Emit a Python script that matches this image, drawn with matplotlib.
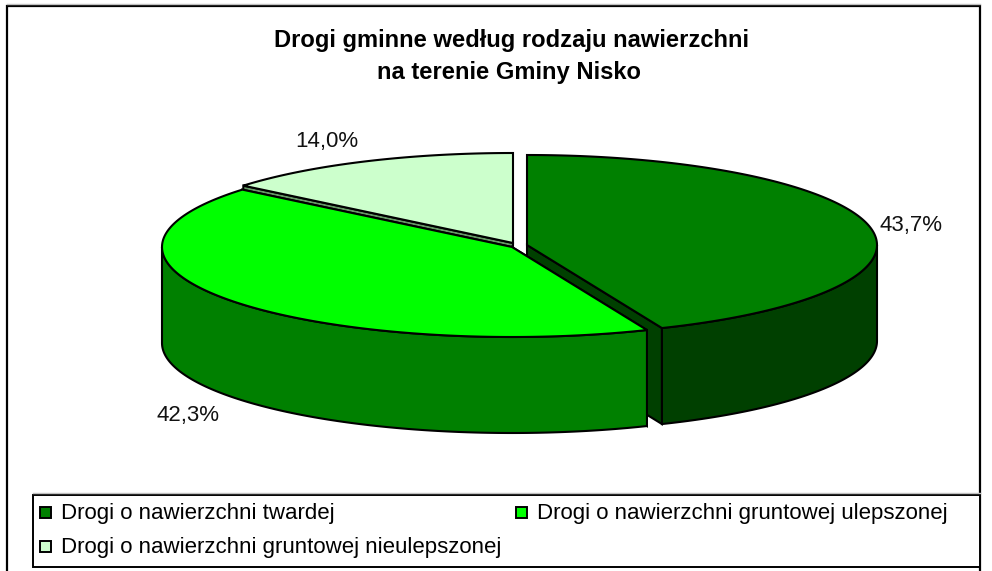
import numpy as np
import matplotlib
matplotlib.use('Agg')
import matplotlib.pyplot as plt
from matplotlib.patches import Polygon, Rectangle

labels = ['Drogi o nawierzchni twardej', 'Drogi o nawierzchni gruntowej ulepszonej', 'Drogi o nawierzchni gruntowej nieulepszonej']
values = [43.7, 42.3, 14.0]
pct_text = ['43,7%', '42,3%', '14,0%']
top_colors = ['#008000', '#00FF00', '#CCFFCC']
side_colors = ['#004000', '#008000', '#669966']

# pie geometry in pixels
RX, RY, DEPTH = 350, 90, 96
centers = [(527, 245), (512, 247), (513, 243)]

plt.rcParams['font.family'] = ['Liberation Sans', 'DejaVu Sans']
fig = plt.figure(figsize=(9.92, 5.71), dpi=100)
ax = fig.add_axes([0, 0, 1, 1])
ax.set_xlim(0, 992)
ax.set_ylim(571, 0)
ax.axis('off')

# chart frame, runs off the bottom of the picture
ax.plot([7, 980], [3.5, 3.5], color='#c0c0c0', lw=1)
ax.add_patch(Rectangle((7, 5.5), 973, 600, fc='white', ec='black', lw=1.6))


def rim(cx, cy, a0, a1, dy=0):
    t = np.radians(np.linspace(a0, a1, 200))
    return np.column_stack([cx + RX * np.sin(t), cy + dy - RY * np.cos(t)])


angles = np.concatenate([[0], np.cumsum(values) * 3.6])
order = [2, 0, 1]  # back to front
for i in order:
    cx, cy = centers[i]
    a0, a1 = angles[i], angles[i + 1]
    apex = np.array([[cx, cy]])
    # cut faces
    for a in (a0, a1):
        if a % 360 == 0:
            continue
        p = rim(cx, cy, a, a)[:1]
        face = np.vstack([apex, p, p + [0, DEPTH], apex + [0, DEPTH]])
        ax.add_patch(Polygon(face, fc=side_colors[i], ec='black', lw=1.5))
    # outer wall, only the part facing the viewer
    w0, w1 = max(a0, 90), min(a1, 270)
    if w1 > w0:
        upper = rim(cx, cy, w0, w1)
        lower = rim(cx, cy, w0, w1, DEPTH)
        ax.add_patch(Polygon(np.vstack([upper, lower[::-1]]), fc=side_colors[i], ec='black', lw=1.5))
    top = np.vstack([apex, rim(cx, cy, a0, a1)])
    ax.add_patch(Polygon(top, fc=top_colors[i], ec='black', lw=1.5))

ax.text(512, 41, 'Drogi gminne według rodzaju nawierzchni', ha='center', va='center', fontsize=17.1, fontweight='bold')
ax.text(509, 73, 'na terenie Gminy Nisko', ha='center', va='center', fontsize=17.1, fontweight='bold')

pct_pos = [(911, 225), (188, 415), (327, 142)]
for s, (x, y) in zip(pct_text, pct_pos):
    ax.text(x, y, s, ha='center', va='center', fontsize=16, color='#111111')

# legend
ax.plot([33, 980], [493, 493], color='#c0c0c0', lw=1)
ax.add_patch(Rectangle((33, 494.5), 947, 72, fc='white', ec='black', lw=1.4))
leg_pos = [(40, 513), (516, 513), (40, 547)]
for name, col, (x, y) in zip(labels, top_colors, leg_pos):
    ax.add_patch(Rectangle((x, y - 6), 11, 11, fc=col, ec='black', lw=1.4))
    ax.text(x + 21, y, name, ha='left', va='center', fontsize=16, color='black')

fig.savefig('out.png', dpi=100)
